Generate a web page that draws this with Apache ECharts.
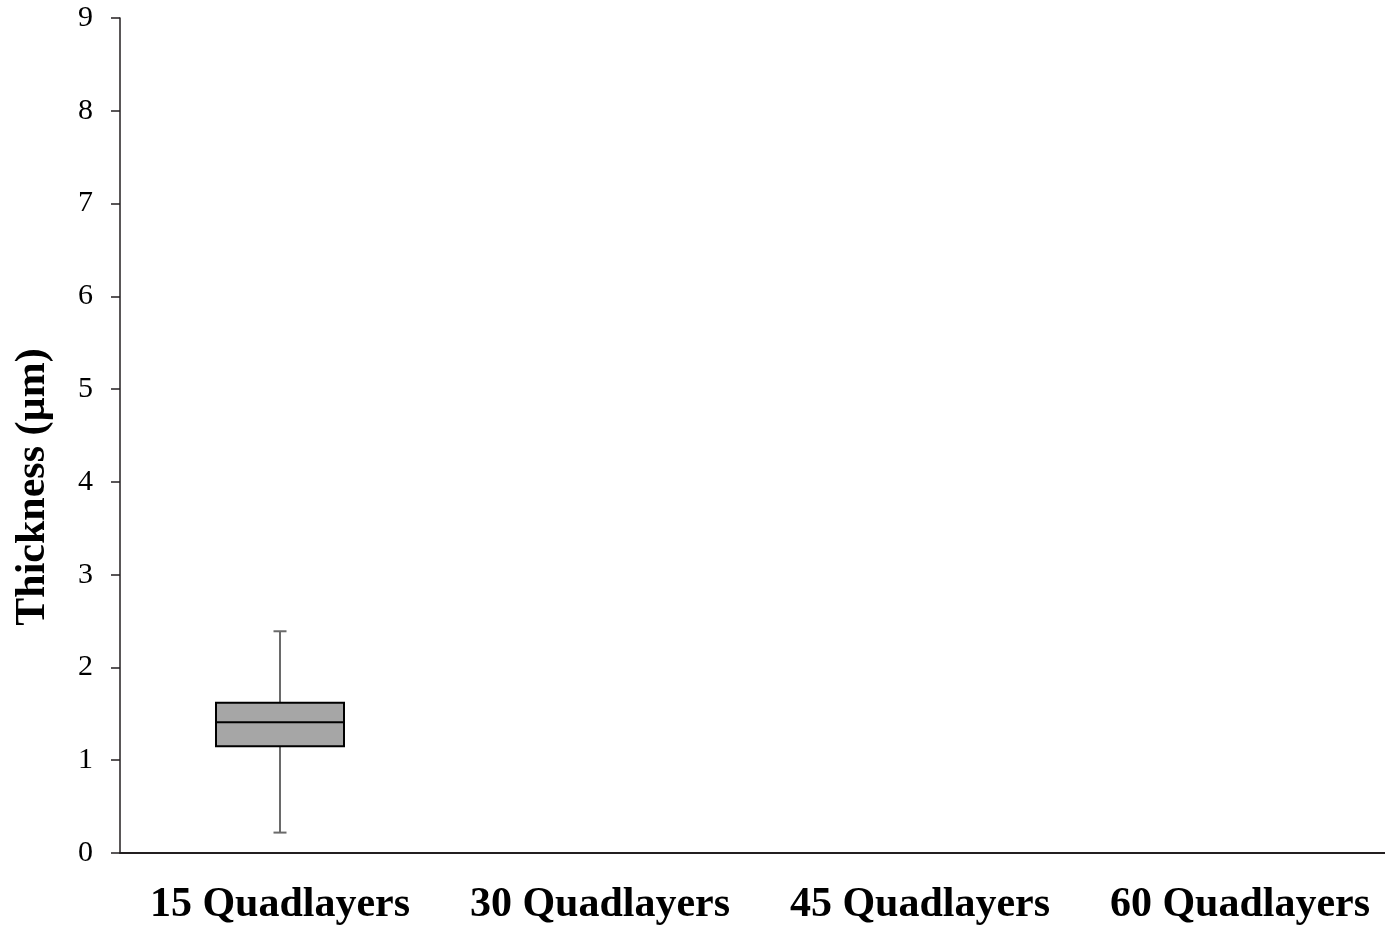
<!DOCTYPE html>
<html>
<head>
<meta charset="utf-8">
<title>Thickness by quadlayer count</title>
<script src="https://cdn.jsdelivr.net/npm/echarts@6/dist/echarts.min.js"></script>
<style>
  html, body { margin: 0; padding: 0; background: #ffffff; overflow: hidden; }
  /* the plot runs slightly past the right edge of the window */
  #chart { width: 1400px; height: 926px; }
</style>
</head>
<body>
<div id="chart"></div>
<script>
// Film thickness statistics per deposition count (µm)
const categories = ['15 Quadlayers', '30 Quadlayers', '45 Quadlayers', '60 Quadlayers'];
const whiskerLow  = [0.22, null, null, null];
const quartile1   = [1.15, null, null, null];
const median      = [1.41, null, null, null];
const quartile3   = [1.62, null, null, null];
const whiskerHigh = [2.39, null, null, null];
const yTicks = [0, 1, 2, 3, 4, 5, 6, 7, 8, 9];

const boxRows = [];
categories.forEach(function (c, i) {
  if (median[i] !== null) {
    boxRows.push([i, whiskerLow[i], quartile1[i], median[i], quartile3[i], whiskerHigh[i]]);
  }
});

const axisColor = '#231f20';
const serif = '"Liberation Serif", "Times New Roman", serif';

function renderBox(params, api) {
  const idx = api.value(0);
  const band = api.size([1, 0])[0];
  const boxW = band * 0.4;
  const capW = 13;
  const pLow = api.coord([idx, api.value(1)]);
  const pQ1 = api.coord([idx, api.value(2)]);
  const pMed = api.coord([idx, api.value(3)]);
  const pQ3 = api.coord([idx, api.value(4)]);
  const pHigh = api.coord([idx, api.value(5)]);
  const cx = pMed[0];
  const whiskerStyle = { stroke: '#6a6a6a', lineWidth: 2 };
  return {
    type: 'group',
    children: [
      { type: 'line', shape: { x1: cx, y1: pHigh[1], x2: cx, y2: pQ3[1] }, style: whiskerStyle },
      { type: 'line', shape: { x1: cx - capW / 2, y1: pHigh[1], x2: cx + capW / 2, y2: pHigh[1] }, style: whiskerStyle },
      { type: 'line', shape: { x1: cx, y1: pQ1[1], x2: cx, y2: pLow[1] }, style: whiskerStyle },
      { type: 'line', shape: { x1: cx - capW / 2, y1: pLow[1], x2: cx + capW / 2, y2: pLow[1] }, style: whiskerStyle },
      { type: 'rect', shape: { x: cx - boxW / 2, y: pQ3[1], width: boxW, height: pQ1[1] - pQ3[1] },
        style: { fill: '#a6a6a6', stroke: '#000000', lineWidth: 2 } },
      { type: 'line', shape: { x1: cx - boxW / 2, y1: pMed[1], x2: cx + boxW / 2, y2: pMed[1] },
        style: { stroke: '#000000', lineWidth: 2 } }
    ]
  };
}

const chart = echarts.init(document.getElementById('chart'), null, { renderer: 'canvas' });
chart.setOption({
  backgroundColor: '#ffffff',
  animation: false,
  grid: { left: 120, top: 18, bottom: 65, right: 0, containLabel: false },
  xAxis: {
    type: 'category',
    data: categories,
    boundaryGap: true,
    axisLine: { lineStyle: { color: axisColor, width: 2 } },
    axisTick: { show: false },
    axisLabel: { interval: 0, color: '#000000', fontFamily: serif, fontWeight: 'bold', fontSize: 42, margin: 31 },
    splitLine: { show: false }
  },
  yAxis: {
    type: 'value',
    min: yTicks[0],
    max: yTicks[yTicks.length - 1],
    interval: 1,
    axisLine: { show: true, lineStyle: { color: axisColor, width: 1.5 } },
    axisTick: { show: true, length: 9, lineStyle: { color: axisColor, width: 1.5 } },
    axisLabel: { color: '#000000', fontFamily: serif, fontSize: 30, margin: 27 },
    splitLine: { show: false }
  },
  graphic: [{
    type: 'text',
    x: 33,
    y: 487,
    rotation: Math.PI / 2,
    style: {
      text: 'Thickness (µm)',
      font: 'bold 42px ' + serif,
      fill: '#000000',
      textAlign: 'center',
      textVerticalAlign: 'middle'
    }
  }],
  series: [{
    type: 'custom',
    renderItem: renderBox,
    encode: { x: 0, y: [1, 2, 3, 4, 5] },
    data: boxRows,
    clip: false
  }]
});
</script>
</body>
</html>
